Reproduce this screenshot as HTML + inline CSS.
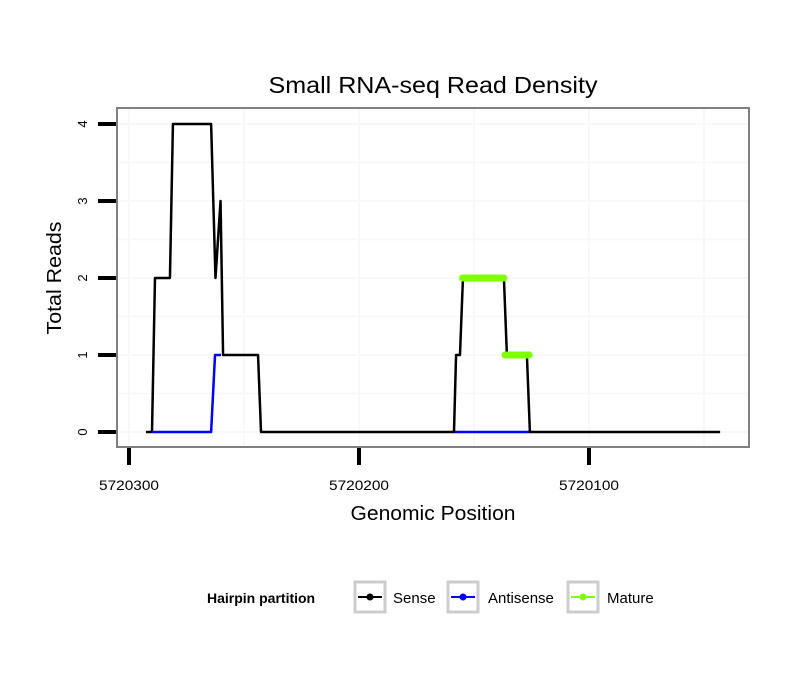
<!DOCTYPE html>
<html><head><meta charset="utf-8"><style>
body{margin:0;background:#fff;}
svg text{font-family:"Liberation Sans",sans-serif;}
</style></head><body>
<svg id="chart" width="810" height="690" xmlns="http://www.w3.org/2000/svg">
<rect width="810" height="690" fill="#fff"/>
<text x="433" y="93" font-size="23" text-anchor="middle" textLength="329" lengthAdjust="spacingAndGlyphs">Small RNA-seq Read Density</text>
<g id="grid"></g>
<g id="series"></g>
<rect x="117" y="108" width="632" height="339" fill="none" stroke="#808080" stroke-width="2"/>
<g id="axes"></g>
<text x="433" y="520" font-size="20" text-anchor="middle" textLength="165" lengthAdjust="spacingAndGlyphs">Genomic Position</text>
<text transform="translate(61,278) rotate(-90)" font-size="20" text-anchor="middle" textLength="113" lengthAdjust="spacingAndGlyphs">Total Reads</text>
<g>
<text x="207" y="603" font-size="14" font-weight="bold">Hairpin partition</text>
<g>
<rect x="355" y="582" width="30" height="30" fill="#fff" stroke="#ccc" stroke-width="3"/>
<line x1="358" y1="597" x2="382" y2="597" stroke="#000" stroke-width="2"/><circle cx="370" cy="597" r="3.5" fill="#000"/>
<text x="393" y="603" font-size="15">Sense</text></g>
<g>
<rect x="448" y="582" width="30" height="30" fill="#fff" stroke="#ccc" stroke-width="3"/>
<line x1="451" y1="597" x2="475" y2="597" stroke="#0000ff" stroke-width="2"/><circle cx="463" cy="597" r="3.5" fill="#0000ff"/>
<text x="488" y="603" font-size="15">Antisense</text></g>
<g>
<rect x="568" y="582" width="30" height="30" fill="#fff" stroke="#ccc" stroke-width="3"/>
<line x1="571" y1="597" x2="595" y2="597" stroke="#7fff00" stroke-width="2"/><circle cx="583" cy="597" r="3.5" fill="#7fff00"/>
<text x="607" y="603" font-size="15">Mature</text></g>
</g>
</svg>
<script>
const xTicks = [5720300, 5720200, 5720100];
const yTicks = [0, 1, 2, 3, 4];
const senseX = [5720292.6,5720290,5720288.7,5720282.2,5720280.9,5720264.3,5720262.4,5720260.2,5720259.1,5720243.9,5720242.6,5720158.7,5720157.8,5720156.1,5720154.8,5720137,5720135.7,5720127,5720125.7,5720043];
const senseY = [0,0,2,2,4,4,2,3,1,1,0,0,1,1,2,2,1,1,0,0];
const antiX = [5720290,5720264.3,5720262.6,5720260];
const antiY = [0,0,1,1];
const anti2X = [5720158.7,5720125.7];
const anti2Y = [0,0];
const mature1X = [5720155,5720137];
const mature1Y = [2,2];
const mature2X = [5720136.5,5720126];
const mature2Y = [1,1];

const sx = v => 129 + (5720300 - v) * 2.3;
const sy = v => 432 - v * 77;
const NS = "http://www.w3.org/2000/svg";
const grid = document.getElementById('grid');
const axes = document.getElementById('axes');
const series = document.getElementById('series');
function mk(tag, attrs, parent){const e=document.createElementNS(NS,tag);for(const k in attrs)e.setAttribute(k,attrs[k]);parent.appendChild(e);return e;}

for (let v = 5720350; v > 5720030; v -= 50) {
  const x = sx(v); if (x < 118 || x > 748) continue;
  const g = mk('line',{x1:x,x2:x,y1:109,y2:446,stroke:'#f8f8f8','stroke-width':2},grid);
  
  
}
for (let v = -0.5; v <= 4.5; v += 0.5) {
  const y = sy(v); if (y < 109 || y > 446) continue;
  const g = mk('line',{x1:118,x2:748,y1:y,y2:y,stroke:'#f8f8f8','stroke-width':2},grid);
  
  
}
xTicks.forEach(v => {
  const x = sx(v);
  const t = mk('line',{x1:x,x2:x,y1:448,y2:465,stroke:'#000','stroke-width':4},axes);
  
  
  const l = mk('text',{x:x,y:490,'font-size':14,'text-anchor':'middle',textLength:60,lengthAdjust:'spacingAndGlyphs'},axes);
  l.textContent = v;
  
  
});
yTicks.forEach(v => {
  const y = sy(v);
  const t = mk('line',{x1:98,x2:116,y1:y,y2:y,stroke:'#000','stroke-width':4},axes);
  
  
  const l = mk('text',{transform:`translate(87,${y}) rotate(-90)`,'font-size':13,'text-anchor':'middle'},axes);
  l.textContent = v;
  
  
});
function path(xs, ys, color, w, name){
  const d = xs.map((v,i)=>(i?'L':'M')+sx(v)+','+sy(ys[i])).join(' ');
  const p = mk('path',{d:d,fill:'none',stroke:color,'stroke-width':w,'stroke-linejoin':'round','stroke-linecap':w>3?'round':'butt'},series);
  
  
}
path(anti2X, anti2Y, '#0000ff', 2.5, 'antisense-line-2');
path(senseX, senseY, '#000', 2.5, 'sense-line');
path(antiX, antiY, '#0000ff', 2.5, 'antisense-line');
path(mature1X, mature1Y, '#7fff00', 7, 'mature-line-1');
path(mature2X, mature2Y, '#7fff00', 7, 'mature-line-2');
</script>
</body></html>
